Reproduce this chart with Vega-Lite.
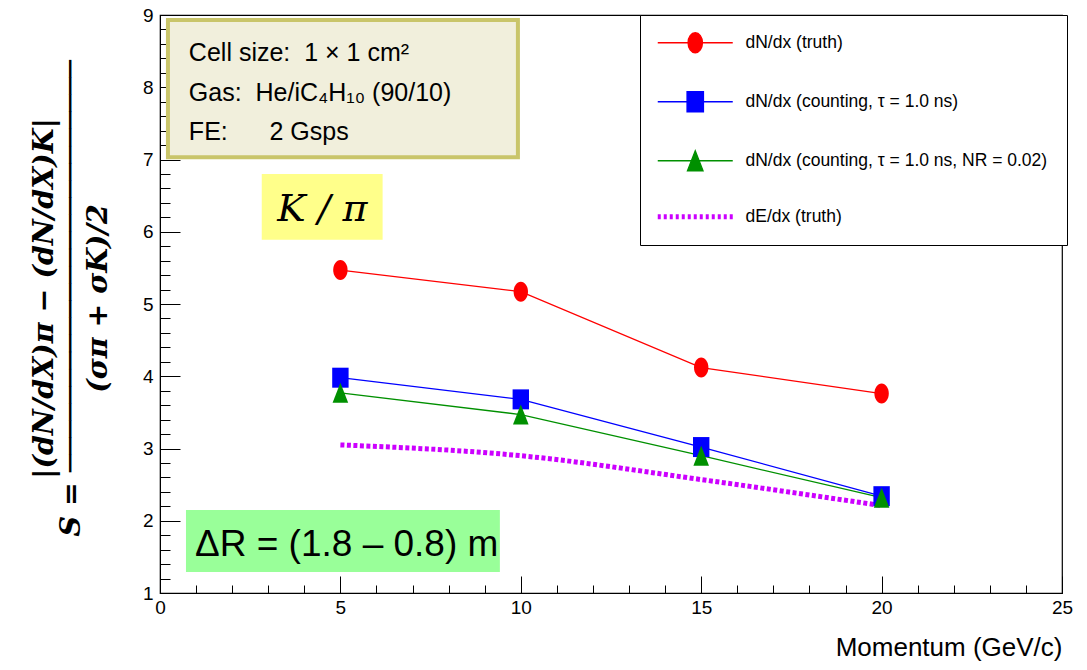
{
  "$schema": "https://vega.github.io/schema/vega-lite/v6.json",
  "width": 902,
  "height": 578,
  "autosize": {"type": "none"},
  "padding": {"left": 160, "top": 15, "right": 25, "bottom": 77},
  "background": "white",
  "config": {
    "view": {"stroke": "black", "strokeWidth": 1.2},
    "axis": {
      "domainColor": "black",
      "tickColor": "black",
      "tickWidth": 1,
      "labelColor": "black",
      "labelFont": "Liberation Sans, Arial, sans-serif",
      "labelFontSize": 19,
      "labelOverlap": false,
      "labelFlush": false,
      "labelBound": false,
      "gridColor": "#777777",
      "gridDash": [2, 2],
      "gridWidth": 1
    }
  },
  "resolve": {"axis": {"x": "independent", "y": "independent"}},
  "datasets": {
    "series": [
      {"x": 5, "y": 5.47, "series": "dN/dx (truth)"},
      {"x": 10, "y": 5.17, "series": "dN/dx (truth)"},
      {"x": 15, "y": 4.12, "series": "dN/dx (truth)"},
      {"x": 20, "y": 3.76, "series": "dN/dx (truth)"},
      {"x": 5, "y": 3.98, "series": "dN/dx (counting, τ = 1.0 ns)"},
      {"x": 10, "y": 3.68, "series": "dN/dx (counting, τ = 1.0 ns)"},
      {"x": 15, "y": 3.02, "series": "dN/dx (counting, τ = 1.0 ns)"},
      {"x": 20, "y": 2.34, "series": "dN/dx (counting, τ = 1.0 ns)"},
      {"x": 5, "y": 3.77, "series": "dN/dx (counting, τ = 1.0 ns, NR = 0.02)"},
      {"x": 10, "y": 3.47, "series": "dN/dx (counting, τ = 1.0 ns, NR = 0.02)"},
      {"x": 15, "y": 2.9, "series": "dN/dx (counting, τ = 1.0 ns, NR = 0.02)"},
      {"x": 20, "y": 2.32, "series": "dN/dx (counting, τ = 1.0 ns, NR = 0.02)"},
      {"x": 5, "y": 3.05, "series": "dE/dx (truth)"},
      {"x": 10, "y": 2.9, "series": "dE/dx (truth)"},
      {"x": 15, "y": 2.57, "series": "dE/dx (truth)"},
      {"x": 20, "y": 2.21, "series": "dE/dx (truth)"}
    ],
    "boxes": [
      {"box": "setup", "x": 0.22, "x2": 9.92, "y": 7.03, "y2": 8.93},
      {"box": "pair", "x": 2.82, "x2": 6.17, "y": 5.89, "y2": 6.8},
      {"box": "range", "x": 0.72, "x2": 9.42, "y": 1.29, "y2": 2.15}
    ],
    "notes": [
      {"box": "setup", "x": 0.8, "y": 8.47, "text": "Cell size:\u00a0\u00a01 × 1 cm²"},
      {"box": "setup", "x": 0.8, "y": 7.92, "text": "Gas:\u00a0\u00a0He/iC₄H₁₀ (90/10)"},
      {"box": "setup", "x": 0.8, "y": 7.38, "text": "FE:\u00a0\u00a0\u00a0\u00a0\u00a0\u00a02 Gsps"},
      {"box": "pair", "x": 4.5, "y": 6.3, "text": "K / π"},
      {"box": "range", "x": 0.97, "y": 1.66, "text": "ΔR = (1.8 – 0.8) m"}
    ]
  },
  "encoding": {
    "x": {"field": "x", "type": "quantitative", "scale": {"domain": [0, 25], "nice": false, "zero": false}, "axis": null},
    "y": {"field": "y", "type": "quantitative", "scale": {"domain": [1, 9], "nice": false, "zero": false}, "axis": null}
  },
  "layer": [
    {
      "data": {"name": "series"},
      "mark": {"type": "point", "filled": true, "opacity": 0, "size": 400},
      "encoding": {
        "color": {
          "field": "series",
          "type": "nominal",
          "scale": {
            "domain": ["dN/dx (truth)", "dN/dx (counting, τ = 1.0 ns)", "dN/dx (counting, τ = 1.0 ns, NR = 0.02)", "dE/dx (truth)"],
            "range": ["#ff0000", "#0000ff", "#009000", "#cc00ff"]
          },
          "legend": {
            "orient": "none",
            "legendX": 480,
            "legendY": 0,
            "title": null,
            "direction": "vertical",
            "symbolSize": 400,
            "symbolOpacity": 1,
            "labelFont": "Liberation Sans, Arial, sans-serif",
            "labelFontSize": 17.5,
            "labelColor": "black",
            "labelLimit": 600,
            "labelOffset": 69,
            "rowPadding": 33,
            "padding": 19,
            "strokeColor": "black",
            "fillColor": "white",
            "cornerRadius": 0,
            "encode": {
              "symbols": {
                "update": {
                  "shape": {"signal": "datum.value === 'dN/dx (truth)' ? 'M-1,0H6.5M2.75,-1A0.72,1 0 1,1 2.75,1A0.72,1 0 1,1 2.75,-1Z' : datum.value === 'dN/dx (counting, τ = 1.0 ns)' ? 'M-1,0H6.5M1.93,-1H3.57V1H1.93Z' : datum.value === 'dN/dx (counting, τ = 1.0 ns, NR = 0.02)' ? 'M-1,0H6.5M2.75,-1L3.53,1H1.97Z' : 'M-1,-0.25h0.3v0.5h-0.3zM-0.4,-0.25h0.3v0.5h-0.3zM0.2,-0.25h0.3v0.5h-0.3zM0.8,-0.25h0.3v0.5h-0.3zM1.4,-0.25h0.3v0.5h-0.3zM2,-0.25h0.3v0.5h-0.3zM2.6,-0.25h0.3v0.5h-0.3zM3.2,-0.25h0.3v0.5h-0.3zM3.8,-0.25h0.3v0.5h-0.3zM4.4,-0.25h0.3v0.5h-0.3zM5,-0.25h0.3v0.5h-0.3zM5.6,-0.25h0.3v0.5h-0.3zM6.2,-0.25h0.3v0.5h-0.3z'"},
                  "fill": {"scale": "color", "field": "value"},
                  "stroke": {"scale": "color", "field": "value"},
                  "strokeWidth": {"signal": "datum.value === 'dE/dx (truth)' ? 0 : 1.3"},
                  "opacity": {"value": 1},
                  "size": {"value": 400}
                }
              }
            }
          }
        }
      }
    },
    {
      "data": {"name": "boxes"},
      "transform": [{"filter": "datum.box === 'setup'"}],
      "mark": {"type": "rect", "fill": "#f1efdc", "stroke": "#c9c56a", "strokeWidth": 4},
      "encoding": {
        "x": {
          "field": "x",
          "type": "quantitative",
          "scale": {"domain": [0, 25], "nice": false, "zero": false},
          "axis": {
            "orient": "bottom",
            "title": "Momentum (GeV/c)",
            "titleFont": "Liberation Sans, Arial, sans-serif",
            "titleFontSize": 26,
            "titleFontWeight": "normal",
            "titleColor": "black",
            "titleAlign": "right",
            "titleAnchor": "end",
            "titleBaseline": "middle",
            "titleX": 902,
            "titleY": 54,
            "values": [0, 5, 10, 15, 20, 25],
            "labelPadding": 22,
            "tickSize": -17,
            "gridOpacity": {"condition": {"test": "datum.value > 0 && datum.value < 25", "value": 1}, "value": 0}
          }
        },
        "y": {
          "field": "y",
          "type": "quantitative",
          "scale": {"domain": [1, 9], "nice": false, "zero": false},
          "axis": {
            "orient": "left",
            "title": [
              "\u00a0\u00a0\u00a0\u00a0\u00a0\u00a0\u00a0|(dN/dX)π − (dN/dX)K|",
              "S = ────────────────────────",
              "\u00a0\u00a0\u00a0\u00a0\u00a0\u00a0\u00a0(σπ + σK)/2"
            ],
            "titleFont": "DejaVu Serif",
            "titleFontSize": 28.5,
            "titleFontWeight": "bold",
            "titleFontStyle": "italic",
            "titleColor": "black",
            "titleAngle": -90,
            "titleAlign": "center",
            "titleBaseline": "middle",
            "titleLineHeight": 27,
            "titleLimit": 0,
            "titleX": -117,
            "titleY": 283,
            "values": [1, 2, 3, 4, 5, 6, 7, 8, 9],
            "labelPadding": 27,
            "tickSize": -20,
            "gridOpacity": {"condition": {"test": "datum.value > 1 && datum.value < 9", "value": 1}, "value": 0}
          }
        },
        "x2": {"field": "x2"},
        "y2": {"field": "y2"}
      }
    },
    {
      "data": {"name": "boxes"},
      "transform": [{"filter": "datum.box === 'pair'"}],
      "mark": {"type": "rect", "fill": "#ffff8a"},
      "encoding": {
        "x": {
          "field": "x",
          "type": "quantitative",
          "scale": {"domain": [0, 25], "nice": false, "zero": false},
          "axis": {
            "orient": "bottom",
            "title": null,
            "domain": false,
            "grid": false,
            "labels": false,
            "values": [1, 2, 3, 4, 6, 7, 8, 9, 11, 12, 13, 14, 16, 17, 18, 19, 21, 22, 23, 24],
            "tickSize": -8
          }
        },
        "y": {
          "field": "y",
          "type": "quantitative",
          "scale": {"domain": [1, 9], "nice": false, "zero": false},
          "axis": {
            "orient": "left",
            "title": null,
            "domain": false,
            "grid": false,
            "labels": false,
            "values": [1.2, 1.4, 1.6, 1.8, 2.2, 2.4, 2.6, 2.8, 3.2, 3.4, 3.6, 3.8, 4.2, 4.4, 4.6, 4.8, 5.2, 5.4, 5.6, 5.8, 6.2, 6.4, 6.6, 6.8, 7.2, 7.4, 7.6, 7.8, 8.2, 8.4, 8.6, 8.8],
            "tickSize": -10
          }
        },
        "x2": {"field": "x2"},
        "y2": {"field": "y2"}
      }
    },
    {
      "data": {"name": "boxes"},
      "transform": [{"filter": "datum.box === 'range'"}],
      "mark": {"type": "rect", "fill": "#99ff99"},
      "encoding": {"x2": {"field": "x2"}, "y2": {"field": "y2"}}
    },
    {
      "data": {"name": "series"},
      "transform": [{"filter": "datum.series !== 'dE/dx (truth)'"}],
      "mark": {"type": "line", "strokeWidth": 1.3},
      "encoding": {
        "color": {"field": "series", "type": "nominal"}
      }
    },
    {
      "data": {"name": "series"},
      "transform": [{"filter": "datum.series === 'dE/dx (truth)'"}],
      "mark": {"type": "line", "strokeWidth": 5, "strokeDash": [4, 2.5], "interpolate": "monotone"},
      "encoding": {
        "color": {"field": "series", "type": "nominal"}
      }
    },
    {
      "data": {"name": "series"},
      "transform": [{"filter": "datum.series !== 'dE/dx (truth)'"}],
      "mark": {"type": "point", "filled": true, "opacity": 1, "size": 400},
      "encoding": {
        "shape": {
          "field": "series",
          "type": "nominal",
          "scale": {
            "domain": ["dN/dx (truth)", "dN/dx (counting, τ = 1.0 ns)", "dN/dx (counting, τ = 1.0 ns, NR = 0.02)"],
            "range": [
              "M0,-1A0.72,1 0 1,1 0,1A0.72,1 0 1,1 0,-1Z",
              "M-0.82,-1H0.82V1H-0.82Z",
              "M0,-1L0.78,1H-0.78Z"
            ]
          },
          "legend": null
        },
        "color": {"field": "series", "type": "nominal"}
      }
    },
    {
      "data": {"name": "notes"},
      "transform": [{"filter": "datum.box === 'setup'"}],
      "mark": {"type": "text", "align": "left", "baseline": "middle", "font": "Liberation Sans, Arial, sans-serif", "fontSize": 25, "color": "black"},
      "encoding": {"text": {"field": "text"}}
    },
    {
      "data": {"name": "notes"},
      "transform": [{"filter": "datum.box === 'pair'"}],
      "mark": {"type": "text", "align": "center", "baseline": "middle", "font": "DejaVu Serif", "fontStyle": "italic", "fontSize": 38, "color": "black"},
      "encoding": {"text": {"field": "text"}}
    },
    {
      "data": {"name": "notes"},
      "transform": [{"filter": "datum.box === 'range'"}],
      "mark": {"type": "text", "align": "left", "baseline": "middle", "font": "Liberation Sans, Arial, sans-serif", "fontSize": 37, "color": "black"},
      "encoding": {"text": {"field": "text"}}
    }
  ]
}
